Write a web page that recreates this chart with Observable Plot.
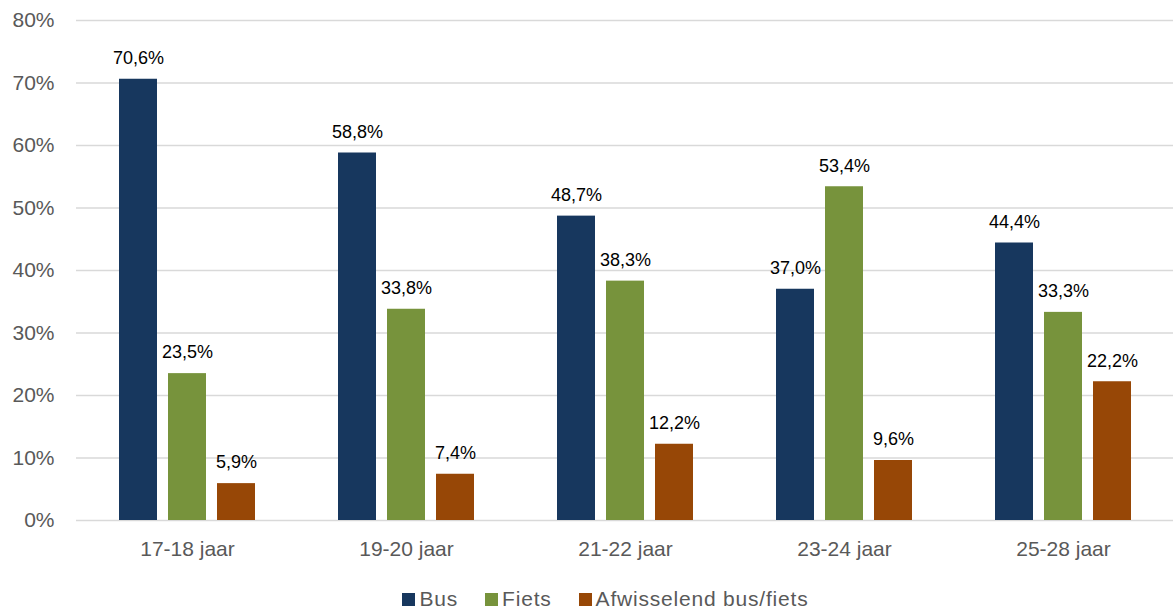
<!DOCTYPE html>
<html>
<head>
<meta charset="utf-8">
<script src="https://cdn.jsdelivr.net/npm/d3@7"></script>
<script src="https://cdn.jsdelivr.net/npm/@observablehq/plot@0.6"></script>
<style>
  body { margin: 0; background: #fff; font-family: "Liberation Sans", Arial, sans-serif; }
  #chart { position: relative; width: 1173px; height: 568px; }
  #chart svg { position: absolute; left: 0; top: 0; }
  #legend { width: 1173px; box-sizing: border-box; display: flex; justify-content: center; gap: 27px; font-size: 21px; color: #595959; margin-top: 19px; padding-left: 38px; letter-spacing: 0.8px; }
  #legend span.item { display: flex; align-items: center; }
  #legend span.sw { display: inline-block; width: 13px; height: 13px; margin-right: 4px; }
</style>
</head>
<body>
<div id="chart"></div>
<div id="legend"></div>
<script>
const groups = ["17-18 jaar", "19-20 jaar", "21-22 jaar", "23-24 jaar", "25-28 jaar"];
const series = ["Bus", "Fiets", "Afwisselend bus/fiets"];
const colors = ["#17375e", "#77933c", "#974706"];
const bus = [70.6, 58.8, 48.7, 37.0, 44.4];
const fiets = [23.5, 33.8, 38.3, 53.4, 33.3];
const afw = [5.9, 7.4, 12.2, 9.6, 22.2];
const yTicks = [0, 10, 20, 30, 40, 50, 60, 70, 80];

const values = [bus, fiets, afw];
const data = [];
groups.forEach((g, i) => series.forEach((s, j) => data.push({group: g, series: s, value: values[j][i]})));
const fmt = v => v.toFixed(1).replace(".", ",") + "%";

const common = {
  width: 1173,
  height: 568,
  marginTop: 20,
  marginLeft: 76,
  marginRight: 0,
  marginBottom: 48,
  style: {fontFamily: "Liberation Sans, Arial, sans-serif", fontSize: "16px", background: "transparent"}
};

// background: grid + y axis
const back = Plot.plot({
  ...common,
  x: {domain: [0, 1], axis: null},
  y: {domain: [0, 80], ticks: yTicks, tickFormat: d => d + "%", label: null, tickSize: 0, tickPadding: 22},
  marks: [
    Plot.ruleY(yTicks, {stroke: "#d9d9d9", strokeWidth: 1.5})
  ]
});

// foreground: grouped bars
const front = Plot.plot({
  ...common,
  fx: {domain: groups, paddingInner: 0.27, paddingOuter: 0.135, label: null, axis: "bottom", tickSize: 0, tickPadding: 21},
  x: {domain: series, padding: 0.22, axis: null},
  y: {domain: [0, 80], axis: null},
  color: {domain: series, range: colors},
  marks: [
    Plot.barY(data, {fx: "group", x: "series", y: "value", fill: "series"}),
    Plot.text(data, {fx: "group", x: "series", y: "value", text: d => fmt(d.value), dy: -21, fill: "#000", fontSize: 18})
  ]
});

[back, front].forEach(svg => svg.querySelectorAll("g[aria-label='y-axis tick label'] text, g[aria-label='fx-axis tick label'] text").forEach(t => { t.style.fill = "#595959"; t.style.fontSize = "21px"; }));
const holder = document.getElementById("chart");
holder.appendChild(back);
holder.appendChild(front);

const leg = document.getElementById("legend");
series.forEach((s, i) => {
  const it = document.createElement("span");
  it.className = "item";
  it.innerHTML = `<span class="sw" style="background:${colors[i]}"></span>${s}`;
  leg.appendChild(it);
});
</script>
</body>
</html>
